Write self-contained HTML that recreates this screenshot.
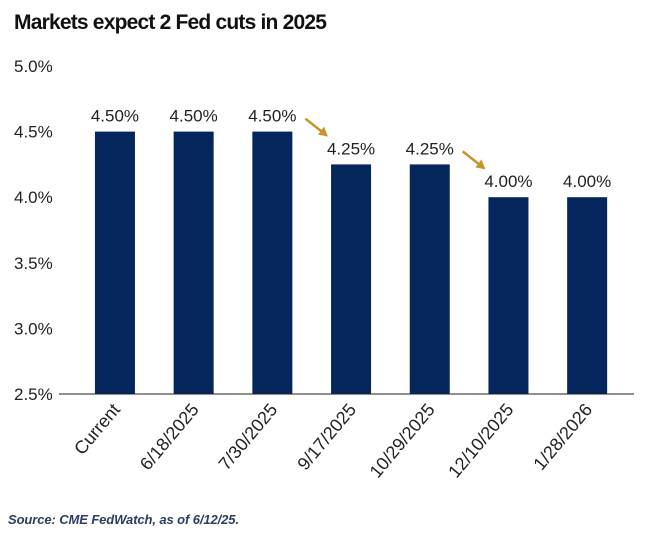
<!DOCTYPE html>
<html><head><meta charset="utf-8"><style>
body{margin:0;background:#fff;width:662px;height:535px;overflow:hidden;font-family:"Liberation Sans",sans-serif}
</style></head><body>
<svg width="662" height="535">
<text x="14" y="29" font-size="21" font-weight="bold" fill="#111" letter-spacing="-0.8">Markets expect 2 Fed cuts in 2025</text>
<g id="plot"></g>
<text x="8" y="524" font-size="13" font-style="italic" font-weight="bold" fill="#2a3d62" letter-spacing="-0.1">Source: CME FedWatch, as of 6/12/25.</text>
</svg>
<script>
const categories=["Current","6/18/2025","7/30/2025","9/17/2025","10/29/2025","12/10/2025","1/28/2026"];
const rates=[4.50,4.50,4.50,4.25,4.25,4.00,4.00];
const valueLabels=["4.50%","4.50%","4.50%","4.25%","4.25%","4.00%","4.00%"];
const yTicks=[2.5,3.0,3.5,4.0,4.5,5.0];
const yTickLabels=["2.5%","3.0%","3.5%","4.0%","4.5%","5.0%"];
const cutAfter=[2,4];
const NS="http://www.w3.org/2000/svg";
const g=document.getElementById('plot');
const yMin=2.5,yMax=5.0,y0=394,y1=66;
const y=v=>y0-(v-yMin)/(yMax-yMin)*(y0-y1);
const left=75.6,right=626.5,step=(right-left)/categories.length,bw=40;
const xc=i=>left+step*(i+0.5);
function mk(t,a){const e=document.createElementNS(NS,t);for(const k in a)e.setAttribute(k,a[k]);g.appendChild(e);return e;}
yTicks.forEach((v,i)=>{const t=mk('text',{x:14,y:y(v)+6,'font-size':17,fill:'#222'});t.textContent=yTickLabels[i];

});
rates.forEach((v,i)=>{
const r=mk('rect',{x:xc(i)-bw/2,y:y(v),width:bw,height:y0-y(v),fill:'#04265c'});


const t=mk('text',{x:xc(i),y:y(v)-10,'font-size':17,fill:'#222','text-anchor':'middle'});t.textContent=valueLabels[i];


const c=mk('text',{x:0,y:0,'font-size':18,fill:'#222','text-anchor':'end',transform:`translate(${xc(i)+6},${y0+16}) rotate(-50)`});c.textContent=categories[i];


});
const ax=mk('line',{x1:59,x2:634,y1:y0,y2:y0,stroke:'#222','stroke-width':1});


cutAfter.forEach(i=>{
const xa=xc(i)+bw/2+13,ya=y(rates[i])-13,xb=xc(i+1)-bw/2-3,yb=y(rates[i])+5;
const l=mk('line',{x1:xa,y1:ya,x2:xb-5,y2:yb-4,stroke:'#c9952b','stroke-width':2.5});


const p=mk('polygon',{points:`${xb},${yb} ${xb-10},${yb-2} ${xb-4},${yb-10}`,fill:'#c9952b'});


});
</script>
</body></html>
